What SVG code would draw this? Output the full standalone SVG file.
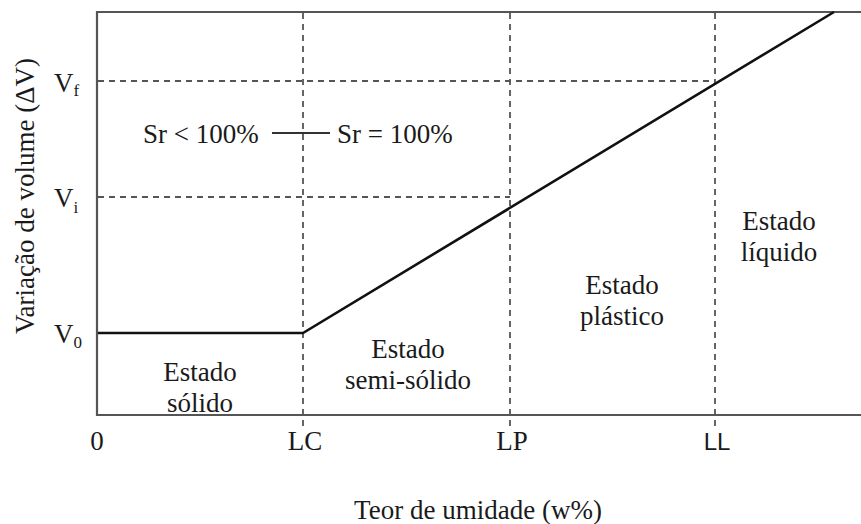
<svg xmlns="http://www.w3.org/2000/svg" width="861" height="524" viewBox="0 0 861 524">
<style>
text{font-family:'Liberation Serif','DejaVu Serif',serif;font-size:27px;fill:#1a1a1a}
.c{text-anchor:middle}
.sub{font-size:17px}
.axis{stroke:#555;stroke-width:2.2;fill:none}
.dash{stroke:#555;stroke-width:1.8;stroke-dasharray:6,5;fill:none}
.curve{stroke:#111;stroke-width:2.6;fill:none}
</style>
<rect width="861" height="524" fill="#fff"/>
<g id="grid">
<line class="dash" x1="303" y1="13" x2="303" y2="426"/>
<line class="dash" x1="510" y1="13" x2="510" y2="426"/>
<line class="dash" x1="715" y1="13" x2="715" y2="426"/>
<line class="dash" x1="98" y1="81" x2="715" y2="81"/>
<line class="dash" x1="98" y1="197" x2="510" y2="197"/>
</g>
<g id="axes">
<polyline class="axis" points="861,12 97,12 97,415 861,415"/>
</g>
<g id="connectors">
<polyline class="curve" points="98,333 303,333 834,12"/>
<line stroke="#333" stroke-width="1.8" x1="272" y1="133" x2="330" y2="133"/>
</g>
<g id="ylabels">
<text x="54" y="92">V<tspan class="sub" dy="4">f</tspan></text>
<text x="54" y="207">V<tspan class="sub" dy="6">i</tspan></text>
<text x="54" y="343">V<tspan class="sub" dy="5">0</tspan></text>
</g>
<g id="xlabels">
<text class="c" x="97" y="450">0</text>
<text class="c" x="305" y="450">LC</text>
<text class="c" x="512" y="450">LP</text>
<text class="c" x="717" y="450" style="font-family:'Liberation Sans',Arial,sans-serif;font-size:24px">LL</text>
</g>
<g id="titles">
<text class="c" x="478" y="519">Teor de umidade (w%)</text>
<text class="c" transform="translate(34,196) rotate(-90)">Variação de volume (ΔV)</text>
</g>
<g id="sr">
<text x="143" y="143">Sr &lt; 100%</text>
<text x="337" y="143">Sr = 100%</text>
</g>
<g id="solido">
<text class="c" x="200" y="381">Estado</text>
<text class="c" x="200" y="412">sólido</text>
</g>
<g id="semisolido">
<text class="c" x="408" y="358">Estado</text>
<text class="c" x="408" y="389">semi-sólido</text>
</g>
<g id="plastico">
<text class="c" x="622" y="294">Estado</text>
<text class="c" x="622" y="325">plástico</text>
</g>
<g id="liquido">
<text class="c" x="779" y="230">Estado</text>
<text class="c" x="779" y="261">líquido</text>
</g>
</svg>
